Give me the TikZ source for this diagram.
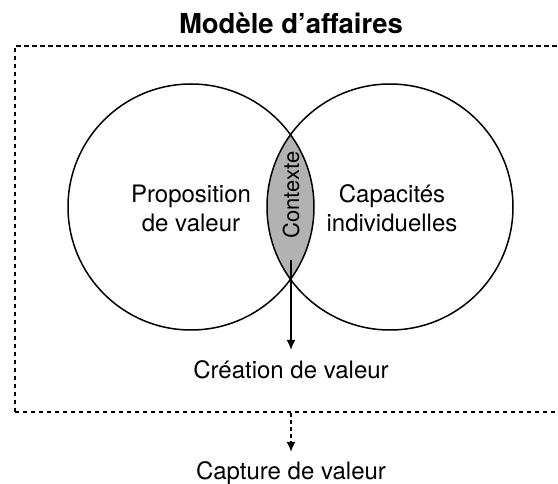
\documentclass[tikz,border=0pt]{standalone}
\usepackage{fontspec}
\setmainfont{TeX Gyre Heros}
\usetikzlibrary{arrows.meta}
\begin{document}
\begin{tikzpicture}[x=1pt,y=-1pt,
  circ/.style={draw, line width=1.5pt, circle, minimum size=246pt, inner sep=0pt},
  framebox/.style={draw, line width=1.8pt, dash pattern=on 4.5pt off 3.5pt, inner sep=0pt},
  lbl/.style={font=\fontsize{24}{29}\selectfont, align=center},
  bottomlbl/.style={font=\fontsize{24}{29}\selectfont, anchor=base, text height=18pt, text depth=6pt, inner xsep=0pt},
  arr/.style={line width=1.5pt, -{Latex[length=10pt,width=9pt]}},
]
\useasboundingbox (0,0) rectangle (558,484);
\node[anchor=base, font=\bfseries\fontsize{27.5}{31}\selectfont] (title) at (291,34) {Modèle d’affaires};
\node[framebox, minimum width=552pt, minimum height=366pt, anchor=north west] (box) at (14,45) {};
\begin{scope}
  \clip (191,207) circle (123pt);
  \fill[black!30] (390,207) circle (123pt);
\end{scope}
\node[circ] (L) at (191,207) {};
\node[circ] (R) at (390,207) {};
\node[lbl] (pv) at (191,208.5) {Proposition\\de valeur};
\node[lbl] (ci) at (392,208.5) {Capacités\\individuelles};
\node[rotate=90, font=\fontsize{22}{26}\selectfont, inner sep=0pt] (ctx) at (291,195) {Contexte};
\coordinate (cs) at (291,260);
\node[bottomlbl, inner ysep=11pt] (crea) at (291,379) {Création de valeur};
\draw[arr] (cs) -- (crea);
\node[bottomlbl, inner ysep=9pt] (cap) at (291,479) {Capture de valeur};
\draw[arr, dash pattern=on 4pt off 3pt] (box.south -| cap) -- (cap);
\end{tikzpicture}
\end{document}
